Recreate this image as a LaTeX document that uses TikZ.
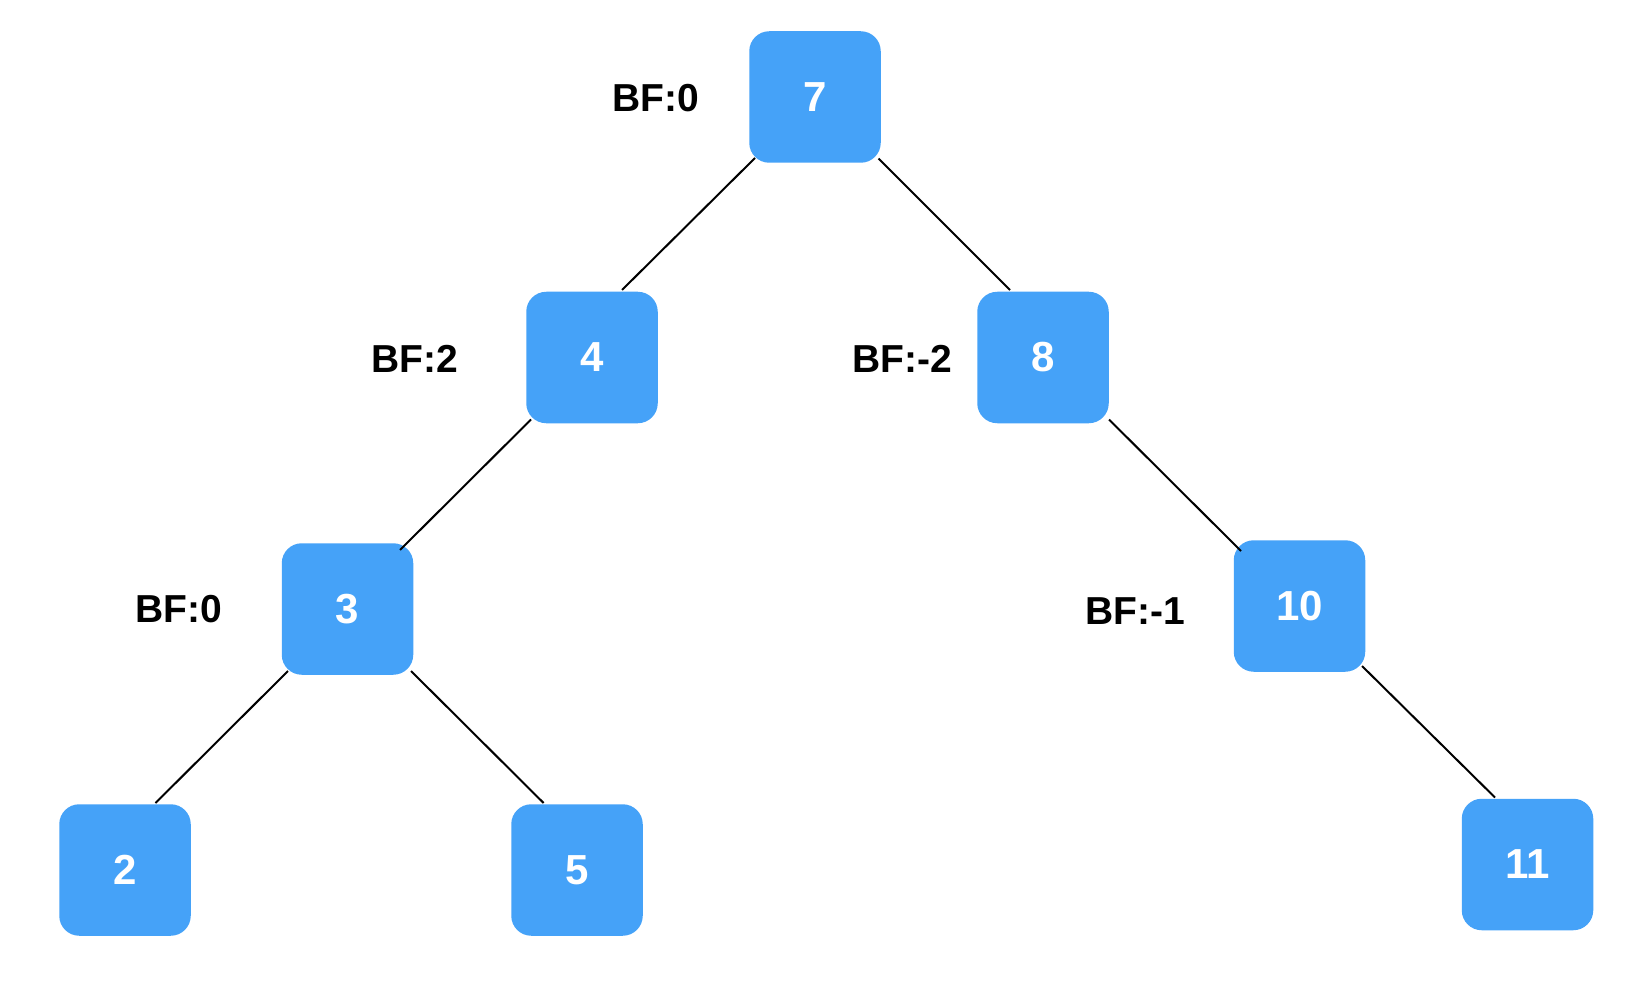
\documentclass[tikz,border=0pt]{standalone}
\usepackage{fontspec}
\setmainfont{Liberation Sans}
\definecolor{nodeblue}{RGB}{69,162,248}
\begin{document}
\begin{tikzpicture}[x=0.5pt,y=-0.5pt,
  treenode/.style={fill=nodeblue,draw=none,rounded corners=10pt,minimum width=65.75pt,minimum height=65.75pt,inner sep=0pt,text=white,font=\fontsize{21}{25}\selectfont\bfseries},
  bflabel/.style={inner sep=0pt,text=black,font=\fontsize{19.5}{23}\selectfont\bfseries},
  edge/.style={draw=black,line width=1pt}]
\useasboundingbox (0,0) rectangle (1636,994);
\node[treenode] (n7) at (815,97) {7};
\node[treenode] (n4) at (592,357.5) {4};
\node[treenode] (n8) at (1043,357.5) {8};
\node[treenode] (n3) at (347.5,609) {3};
\node[treenode] (n10) at (1299.5,606) {10};
\node[treenode] (n2) at (125,870) {2};
\node[treenode] (n5) at (577,870) {5};
\node[treenode] (n11) at (1527.5,864.5) {11};
\node[bflabel] (l7) at (655.5,98) {BF:0};
\node[bflabel] (l4) at (414.5,359) {BF:2};
\node[bflabel] (l8) at (902,359) {BF:-2};
\node[bflabel] (l3) at (178.5,609) {BF:0};
\node[bflabel] (l10) at (1135,611) {BF:-1};
\draw[edge] ([shift={(-60,61)}]n7.center) -- ([shift={(30,-67.5)}]n4.center);
\draw[edge] ([shift={(63.5,61.6)}]n7.center) -- ([shift={(-33,-67.5)}]n8.center);
\draw[edge] ([shift={(-61,62)}]n4.center) -- ([shift={(52.5,-59)}]n3.center);
\draw[edge] ([shift={(66,62)}]n8.center) -- ([shift={(-58.5,-55)}]n10.center);
\draw[edge] ([shift={(-59.5,62)}]n3.center) -- ([shift={(30.5,-67)}]n2.center);
\draw[edge] ([shift={(63.5,62)}]n3.center) -- ([shift={(-33.4,-67)}]n5.center);
\draw[edge] ([shift={(62.5,60)}]n10.center) -- ([shift={(-32.5,-67)}]n11.center);
\end{tikzpicture}
\end{document}
